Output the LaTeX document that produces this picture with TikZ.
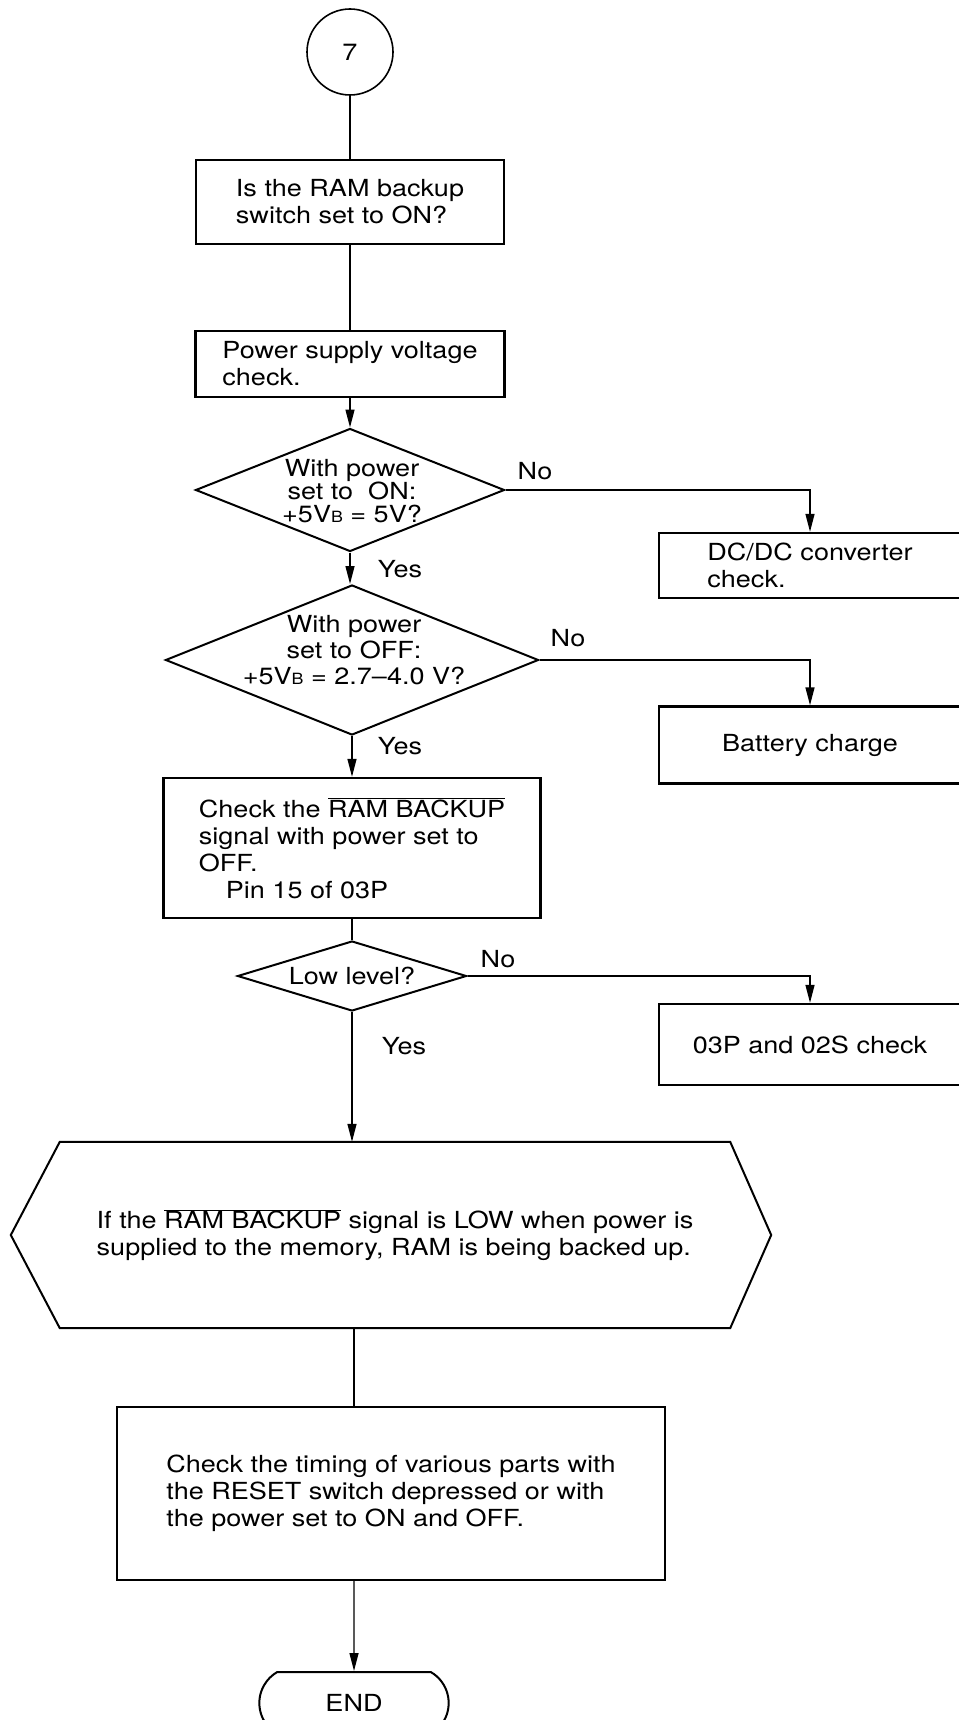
\documentclass[tikz,border=0pt]{standalone}
\usepackage{fontspec}
\setmainfont{TeX Gyre Heros}[FakeStretch=1.15]
\usetikzlibrary{arrows.meta,shapes.geometric,shapes.misc}
\begin{document}
\begin{tikzpicture}[x=1pt,y=-1pt,
        every node/.style={font=\fontsize{23.5}{27}\selectfont},
        box/.style={draw,line width=2.4pt,align=left},
        dec/.style={draw,diamond,line width=2pt,inner sep=0pt},
        ln/.style={line width=1.4pt},
        arr/.style={-{Triangle[length=18pt,width=9pt]}}]
        \useasboundingbox (0,0) rectangle (958,1720);
        \node [circle,draw,line width=1.6pt,minimum size=86] (c7) at (350,52) {7};
        \node [box,minimum width=308,minimum height=84] (q1) at (350,202) {Is the RAM backup\\switch set to ON?};
        \node [box,minimum width=309,minimum height=66] (q2) at (350,364) {Power supply voltage\\check.};
        \node [dec,minimum width=309,minimum height=123] (d1) at (350,490) {};
        \node [align=center,font=\fontsize{23.5}{22.5}\selectfont] (t1) at (352,491) {With power\\set to\ \ ON:\\+5V{\fontsize{15.5}{15}\selectfont B} = 5V?};
        \node [dec,minimum width=373,minimum height=150] (d2) at (352,660) {};
        \node [align=center,font=\fontsize{23.5}{26}\selectfont] (t2) at (354,650.5) {With power\\set to OFF:\\+5V{\fontsize{15.5}{15}\selectfont B} = 2.7--4.0 V?};
        \node [box,minimum width=377,minimum height=140] (q3) at (352,848) {Check the $\overline{\mbox{RAM BACKUP}}$\\signal with power set to\\OFF.\\\hspace*{27pt}Pin 15 of 03P};
        \node [dec,aspect=3.3,minimum width=229,minimum height=70] (d3) at (352,976) {Low level?};
        \node [minimum width=670,minimum height=186,inner sep=0pt,align=left] (hexa) at (395,1235) {If the $\overline{\mbox{RAM BACKUP}}$ signal is LOW when power is\\supplied to the memory, RAM is being backed up.};
        \draw [line width=2pt] (hexa.north west) -- (hexa.north east) -- ([xshift=41pt]hexa.east) -- (hexa.south east) -- (hexa.south west) -- ([xshift=-49pt]hexa.west) -- cycle;
        \node [box,minimum width=548,minimum height=173] (q4) at (391,1493.5) {Check the timing of various parts with\\the RESET switch depressed or with\\the power set to ON and OFF.};
        \node [draw,rounded rectangle,rounded rectangle arc length=120,line width=2pt,minimum width=196,minimum height=62] (fin) at (354,1703) {END};
        \node [box,minimum width=302,minimum height=65] (dc) at (810,565.5) {DC/DC converter\\check.};
        \node [box,minimum width=302,minimum height=77] (bat) at (810,745) {Battery charge};
        \node [box,minimum width=302,minimum height=81] (chk) at (810,1044.5) {03P and 02S check};
        \node (n1) at (535,471) {No};
        \node (n2) at (568,638) {No};
        \node (n3) at (498,959) {No};
        \node (y1) at (400,569) {Yes};
        \node (y2) at (400,746) {Yes};
        \node (y3) at (404,1046) {Yes};
        \draw [ln] (c7) -- (q1);
        \draw [ln] (q1) -- (q2);
        \draw [ln,arr] (q2) -- (d1);
        \draw [ln,arr] (d1.south) -- (d1.south |- d2.north);
        \draw [ln,arr] (d2) -- (q3);
        \draw [ln] (q3) -- (d3);
        \draw [ln,arr] (d3.south) -- (d3.south |- hexa.north);
        \draw [ln] (fin.north |- hexa.south) -- (fin.north |- q4.north);
        \draw [ln,arr] (fin.north |- q4.south) -- (fin);
        \draw [ln,arr] (d1.east) -| (dc.north);
        \draw [ln,arr] (d2.east) -| (bat.north);
        \draw [ln,arr] (d3.east) -| (chk.north);
\end{tikzpicture}
\end{document}
